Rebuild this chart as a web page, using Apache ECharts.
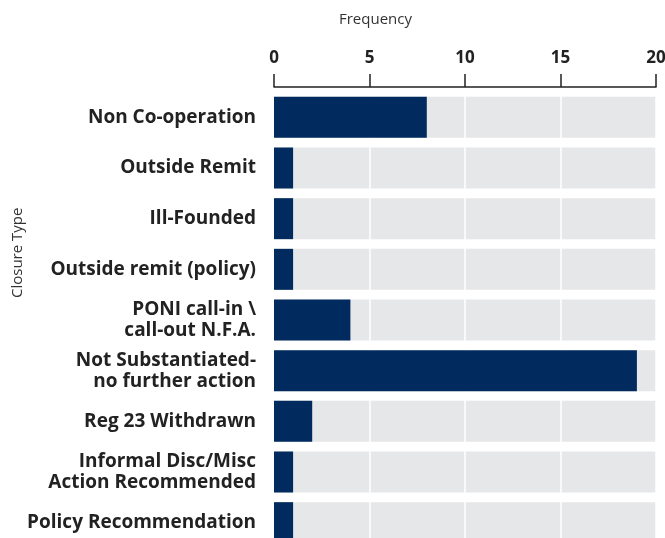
<!DOCTYPE html>
<html>
<head>
<meta charset="utf-8">
<script src="https://cdn.jsdelivr.net/npm/echarts@6/dist/echarts.min.js"></script>
<style>
  html, body { margin: 0; padding: 0; background: #fff; }
  #chart { width: 665px; height: 538px; }
</style>
</head>
<body>
<div id="chart"></div>
<script>
const closureTypes = [
  'Non Co-operation',
  'Outside Remit',
  'Ill-Founded',
  'Outside remit (policy)',
  'PONI call-in \\\ncall-out N.F.A.',
  'Not Substantiated-\nno further action',
  'Reg 23 Withdrawn',
  'Informal Disc/Misc\nAction Recommended',
  'Policy Recommendation'
]
const frequency = [8, 1, 1, 1, 4, 19, 2, 1, 1]
const freqMin = 0
const freqMax = 20
const freqStep = 5

const chart = echarts.init(document.getElementById('chart'))

chart.setOption({
  backgroundColor: '#ffffff',
  animation: false,
  grid: {
    left: 274,
    right: 9,
    top: 92,
    height: 456,
    outerBoundsMode: 'none'
  },
  graphic: [
    {
      type: 'text',
      left: 339,
      top: 12,
      style: {
        text: 'Frequency',
        fontFamily: 'Open Sans',
        fontSize: 15,
        fill: '#333'
      }
    },
    {
      type: 'text',
      x: 10,
      y: 298,
      rotation: Math.PI / 2,
      style: {
        text: 'Closure Type',
        fontFamily: 'Open Sans',
        fontSize: 15,
        fill: '#333'
      }
    }
  ],
  xAxis: {
    type: 'value',
    position: 'top',
    offset: 5,
    min: freqMin,
    max: freqMax,
    interval: freqStep,
    z: 2,
    axisLine: {
      show: true,
      lineStyle: { color: '#222', width: 1.5 }
    },
    axisTick: {
      show: true,
      length: 13,
      lineStyle: { color: '#222', width: 1.5 }
    },
    axisLabel: {
      margin: 20,
      fontFamily: 'Open Sans',
      fontWeight: 'bold',
      fontSize: 17,
      color: '#222'
    },
    splitLine: {
      show: true,
      lineStyle: { color: '#ffffff', width: 1.5 }
    }
  },
  yAxis: {
    type: 'category',
    inverse: true,
    data: closureTypes,
    axisLine: { show: false },
    axisTick: { show: false },
    axisLabel: {
      margin: 18,
      fontFamily: 'Open Sans',
      fontWeight: 'bold',
      fontSize: 19,
      lineHeight: 21,
      color: '#222',
      align: 'right'
    }
  },
  series: [
    {
      // grey track behind the bars
      type: 'bar',
      data: frequency,
      barWidth: 41,
      z: 1,
      silent: true,
      itemStyle: { color: 'rgba(0,0,0,0)' },
      showBackground: true,
      backgroundStyle: { color: '#e6e7e9' }
    },
    {
      name: 'Frequency',
      type: 'bar',
      data: frequency,
      barWidth: 41,
      barGap: '-100%',
      z: 3,
      itemStyle: { color: '#012b5e' }
    }
  ]
})
</script>
</body>
</html>
